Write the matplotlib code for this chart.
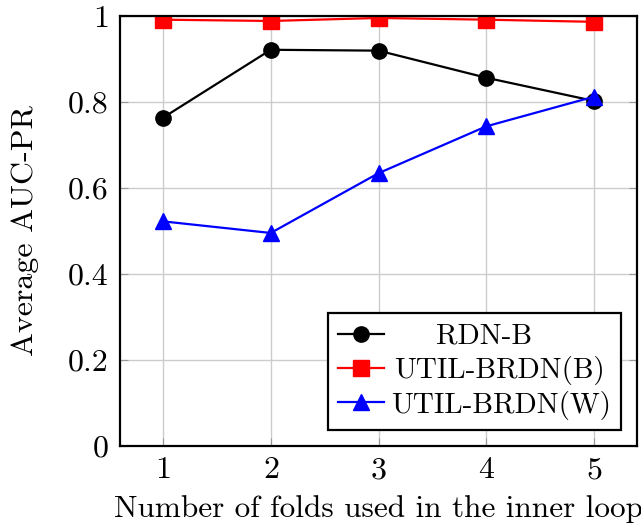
import numpy as np
import matplotlib
matplotlib.use('Agg')
import matplotlib.pyplot as plt
from matplotlib.ticker import FuncFormatter

plt.rcParams['font.family'] = 'cmr10'
plt.rcParams['axes.formatter.use_mathtext'] = True

# fold counts and mean AUC-PR of each method
folds = [1, 2, 3, 4, 5]
rdn_b = [0.763, 0.921, 0.919, 0.856, 0.802]
util_brdn_b = [0.991, 0.988, 0.995, 0.991, 0.986]
util_brdn_w = [0.522, 0.495, 0.634, 0.743, 0.812]

fig = plt.figure(figsize=(6.41, 5.27), dpi=100)
ax = fig.add_axes([0.187, 0.154, 0.807, 0.816])

ax.plot(folds, rdn_b, color='black', marker='o', markersize=11, lw=1.6, label='RDN-B')
ax.plot(folds, util_brdn_b, color='red', marker='s', markersize=11, lw=1.6, label='UTIL-BRDN(B)')
ax.plot(folds, util_brdn_w, color='blue', marker='^', markersize=11, lw=1.6, label='UTIL-BRDN(W)')

ax.set_xlim(0.6, 5.4)
ax.set_ylim(0, 1)
ax.set_xticks(folds)
ax.set_yticks([0, 0.2, 0.4, 0.6, 0.8, 1])
ax.yaxis.set_major_formatter(FuncFormatter(lambda v, p: '%g' % v))
ax.grid(True, color='#cccccc', lw=1)
ax.tick_params(direction='in', length=6, color='#999999', top=True, right=True,
               labelsize=23, pad=8)
for s in ax.spines.values():
    s.set_linewidth(1.6)

ax.set_xlabel('Number of folds used in the inner loop', fontsize=22.5, labelpad=8)
ax.set_ylabel('Average AUC-PR', fontsize=23, labelpad=21)

leg = ax.legend(loc='lower right', fontsize=21, fancybox=False, framealpha=1,
                edgecolor='black', borderaxespad=0.55, handlelength=1.55,
                borderpad=0.35, labelspacing=0.2, handletextpad=0.25)
leg.get_frame().set_linewidth(1.6)

# center the shorter legend entries inside the text column
fig.canvas.draw()
renderer = fig.canvas.get_renderer()
widths = [t.get_window_extent(renderer).width for t in leg.get_texts()]
for t, w in zip(leg.get_texts(), widths):
    t.set_position(((max(widths) - w) / 2 * 72 / fig.dpi, 0))

fig.savefig('out.png', dpi=100)
